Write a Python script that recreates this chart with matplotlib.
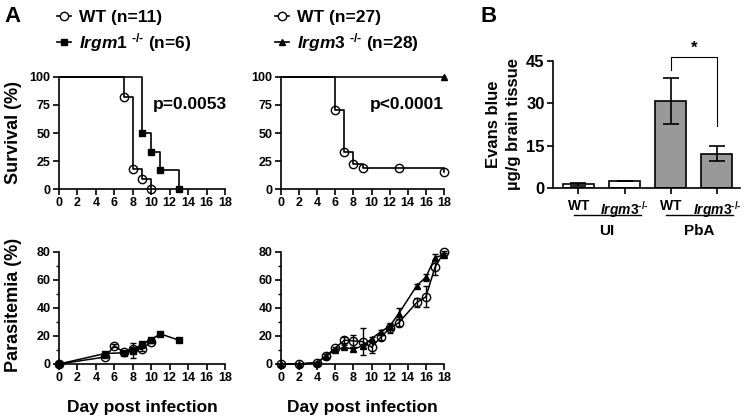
import matplotlib
matplotlib.use("Agg")
import matplotlib.pyplot as plt
from matplotlib.lines import Line2D
import numpy as np

plt.rcParams['font.family'] = ['Liberation Sans', 'DejaVu Sans']
plt.rcParams['font.weight'] = 'bold'
plt.rcParams['mathtext.fontset'] = 'custom'
plt.rcParams['mathtext.rm'] = 'Liberation Sans:bold'
plt.rcParams['mathtext.it'] = 'Liberation Sans:bold:italic'
plt.rcParams['mathtext.bf'] = 'Liberation Sans:bold'
plt.rcParams['axes.linewidth'] = 1.2

# ---------------- Data ----------------
# Survival, left (Irgm1 experiment)
wt1_surv_t = [0, 7, 8, 9, 10]
wt1_surv_v = [100, 81.8, 18.2, 9.1, 0]
irgm1_surv_t = [0, 9, 10, 11, 13]
irgm1_surv_v = [100, 50, 33.3, 16.7, 0]
# Survival, right (Irgm3 experiment)
wt3_surv_t = [0, 6, 7, 8, 9, 18]
wt3_surv_v = [100, 70.4, 33.3, 22.2, 18.5, 14.8]
wt3_mark_t = [6, 7, 8, 9, 13, 18]
wt3_mark_v = [70.4, 33.3, 22.2, 18.5, 18.5, 14.8]
irgm3_surv_t = [0, 18]
irgm3_surv_v = [100, 100]

# Parasitemia, left
wt1_par_t = [0, 5, 6, 7, 8, 9, 10]
wt1_par_v = [0, 5, 13, 8.5, 11, 10.5, 16]
wt1_par_e = [0, 0.5, 1, 0.5, 1, 1, 0.8]
irgm1_par_t = [0, 5, 7, 8, 9, 10, 11, 13]
irgm1_par_v = [0, 7.5, 8, 9.5, 14.5, 17.5, 21.5, 17]
irgm1_par_e = [0, 0.5, 1, 5.5, 1, 0.8, 0.5, 0.5]

# Parasitemia, right
wt3_par_t = [0, 2, 4, 5, 6, 7, 8, 9, 10, 11, 12, 13, 15, 16, 17, 18]
wt3_par_v = [0, 0, 1, 6, 11.5, 17, 16.5, 16, 12, 19, 25.5, 29.5, 44, 48, 69, 80]
wt3_par_e = [0, 0, 0.5, 1, 1, 2, 4.5, 9.5, 4, 2, 3, 2.5, 3.5, 7.5, 5.5, 1]
irgm3_par_t = [0, 2, 4, 5, 6, 7, 8, 9, 10, 11, 12, 13, 15, 16, 17, 18]
irgm3_par_v = [0, 0, 1, 6, 10, 12, 10.5, 13, 18, 23, 27, 36, 56, 62, 76, 78]
irgm3_par_e = [0, 0, 0.5, 1, 1, 1.5, 1.5, 1.5, 1.5, 1.5, 2.5, 4, 1.5, 2.5, 2.5, 1]

# Evans blue
eb_labels = [r"$\mathrm{WT}$", r"$\mathit{Irgm3}^{\text{-/-}}$",
             r"$\mathrm{WT}$", r"$\mathit{Irgm3}^{\text{-/-}}$"]
eb_values = [1.3, 2.5, 30.8, 12.2]
eb_errors = [0.5, 0.1, 8.2, 2.7]
eb_colors = ["white", "white", "#999999", "#999999"]
eb_groups = ["UI", "PbA"]

fig = plt.figure(figsize=(7.5, 4.18), dpi=100)

def px(x0, y0, x1, y1):
    W, H = 750, 418
    return [x0 / W, 1 - y1 / H, (x1 - x0) / W, (y1 - y0) / H]

def style(ax, size=9):
    for s in ['top', 'right']:
        ax.spines[s].set_visible(False)
    ax.tick_params(direction='out', length=4, width=1.2, labelsize=size, pad=2)
    ax.tick_params(which='minor', direction='out', length=2.5, width=1)
    for lab in ax.get_xticklabels() + ax.get_yticklabels():
        lab.set_fontweight('bold')

ax1 = fig.add_axes(px(59, 77, 225, 189))
ax2 = fig.add_axes(px(281, 77, 444, 189))
ax3 = fig.add_axes(px(59, 252, 225, 364))
ax4 = fig.add_axes(px(281, 252, 444, 364))
ax5 = fig.add_axes(px(553, 61, 740, 188))

lw = 1.2
ms_c = 6
# survival left
ax1.step(wt1_surv_t, wt1_surv_v, where='post', color='black', lw=lw, clip_on=False)
ax1.plot(wt1_surv_t[1:], wt1_surv_v[1:], 'o', mfc='none', mec='black', ms=ms_c, mew=1, ls='none', clip_on=False, zorder=3)
ax1.step(irgm1_surv_t, irgm1_surv_v, where='post', color='black', lw=lw, clip_on=False)
ax1.plot(irgm1_surv_t[1:], irgm1_surv_v[1:], 's', color='black', ms=4.5, ls='none', clip_on=False, zorder=3)
ax1.text(10.2, 75, "p=0.0053", fontsize=12.5, fontweight='bold', va='center')

# survival right
ax2.step(wt3_surv_t, wt3_surv_v, where='post', color='black', lw=lw, clip_on=False)
ax2.plot(wt3_mark_t, wt3_mark_v, 'o', mfc='none', mec='black', ms=ms_c, mew=1, ls='none', clip_on=False, zorder=3)
ax2.plot(irgm3_surv_t, irgm3_surv_v, color='black', lw=lw, clip_on=False)
ax2.plot(irgm3_surv_t[-1:], irgm3_surv_v[-1:], '^', color='black', ms=5, ls='none', clip_on=False, zorder=3)
ax2.text(18, 75, "p<0.0001", fontsize=12.5, fontweight='bold', va='center', ha='right')

for ax in (ax1, ax2):
    ax.set_xlim(0, 18)
    ax.set_ylim(0, 100)
    ax.set_xticks(range(0, 19, 2))
    ax.set_yticks([0, 25, 50, 75, 100])
    style(ax)

# parasitemia
def par(ax, t, v, e, marker, filled, ms):
    if filled:
        kw = dict(mfc='black', mec='black')
    else:
        kw = dict(mfc='none', mec='black')
    ax.errorbar(t, v, yerr=e, fmt=marker + '-', color='black', lw=1.1, ms=ms, mew=1,
                capsize=2.5, elinewidth=1, capthick=1, clip_on=False, **kw)

par(ax3, irgm1_par_t, irgm1_par_v, irgm1_par_e, 's', True, 4.5)
par(ax3, wt1_par_t, wt1_par_v, wt1_par_e, 'o', False, ms_c)
par(ax4, irgm3_par_t, irgm3_par_v, irgm3_par_e, '^', True, 5)
par(ax4, wt3_par_t, wt3_par_v, wt3_par_e, 'o', False, ms_c)

for ax in (ax3, ax4):
    ax.set_xlim(0, 18)
    ax.set_ylim(0, 80)
    ax.set_xticks(range(0, 19, 2))
    ax.set_yticks([0, 20, 40, 60, 80])
    ax.set_yticks([10, 30, 50, 70], minor=True)
    style(ax)
    ax.set_xlabel("Day post infection", fontsize=12.5, fontweight='bold', labelpad=11)

# Evans blue bars
xpos = np.arange(len(eb_values))
ax5.bar(xpos, eb_values, width=0.67, color=eb_colors, edgecolor='black', linewidth=1.2, zorder=2)
ax5.errorbar(xpos, eb_values, yerr=eb_errors, fmt='none', ecolor='black', elinewidth=1.2,
             capsize=5.5, capthick=1.2, zorder=3)
ax5.set_xlim(-0.55, 3.5)
ax5.set_ylim(0, 45)
ax5.set_yticks([0, 15, 30, 45])
ax5.set_xticks(xpos)
ax5.set_xticklabels(eb_labels)
style(ax5)
ax5.tick_params(axis='y', labelsize=12)
ax5.tick_params(axis='x', labelsize=10, pad=4)
ax5.set_ylabel("Evans blue\n\u00b5g/g brain tissue", fontsize=12, fontweight='bold', labelpad=4,
               linespacing=1.4)
# significance bracket
ax5.plot([2, 2, 3, 3], [41.8, 46.5, 46.5, 22], color='black', lw=0.8, clip_on=False)
ax5.text(2.5, 47, "*", ha='center', va='bottom', fontsize=12)
# group lines
tr = ax5.get_xaxis_transform()
for g, (a, b) in zip(eb_groups, [(0, 1), (2, 3)]):
    ax5.plot([a - 0.1, b + 0.35], [-0.215, -0.215], transform=tr, color='black', lw=1, clip_on=False)
    ax5.text((a + b) / 2 + 0.12, -0.34, g, transform=tr, ha='center', va='center', fontsize=11,
             fontweight='bold')

# legends
h_wt = Line2D([], [], color='black', lw=1.2, marker='o', mfc='white', mec='black', ms=ms_c)
h_i1 = Line2D([], [], color='black', lw=1.2, marker='s', mfc='black', ms=4.5)
h_i3 = Line2D([], [], color='black', lw=1.2, marker='^', mfc='black', ms=5)
leg_kw = dict(loc='upper left', frameon=False, fontsize=12.5, handlelength=0.8, handletextpad=0.45,
              labelspacing=0.35, borderaxespad=0, borderpad=0)
fig.legend([h_wt, h_i1], ["WT (n=11)", r"$\mathit{Irgm1}$ $^{\text{-/-}}$ (n=6)"],
           bbox_to_anchor=(57 / 750, 1 - 10 / 418), **leg_kw)
fig.legend([h_wt, h_i3], ["WT (n=27)", r"$\mathit{Irgm3}$ $^{\text{-/-}}$ (n=28)"],
           bbox_to_anchor=(275 / 750, 1 - 10 / 418), **leg_kw)

fig.text(14 / 750, 1 - 133 / 418, "Survival (%)", rotation=90, ha='center', va='center',
         fontsize=13, fontweight='bold')
fig.text(14 / 750, 1 - 305 / 418, "Parasitemia (%)", rotation=90, ha='center', va='center',
         fontsize=13, fontweight='bold')
fig.text(4 / 750, 1 - 16 / 418, "A", fontsize=16, fontweight='bold', va='center')
fig.text(480 / 750, 1 - 16 / 418, "B", fontsize=16, fontweight='bold', va='center')

fig.savefig("out.png", dpi=100)
